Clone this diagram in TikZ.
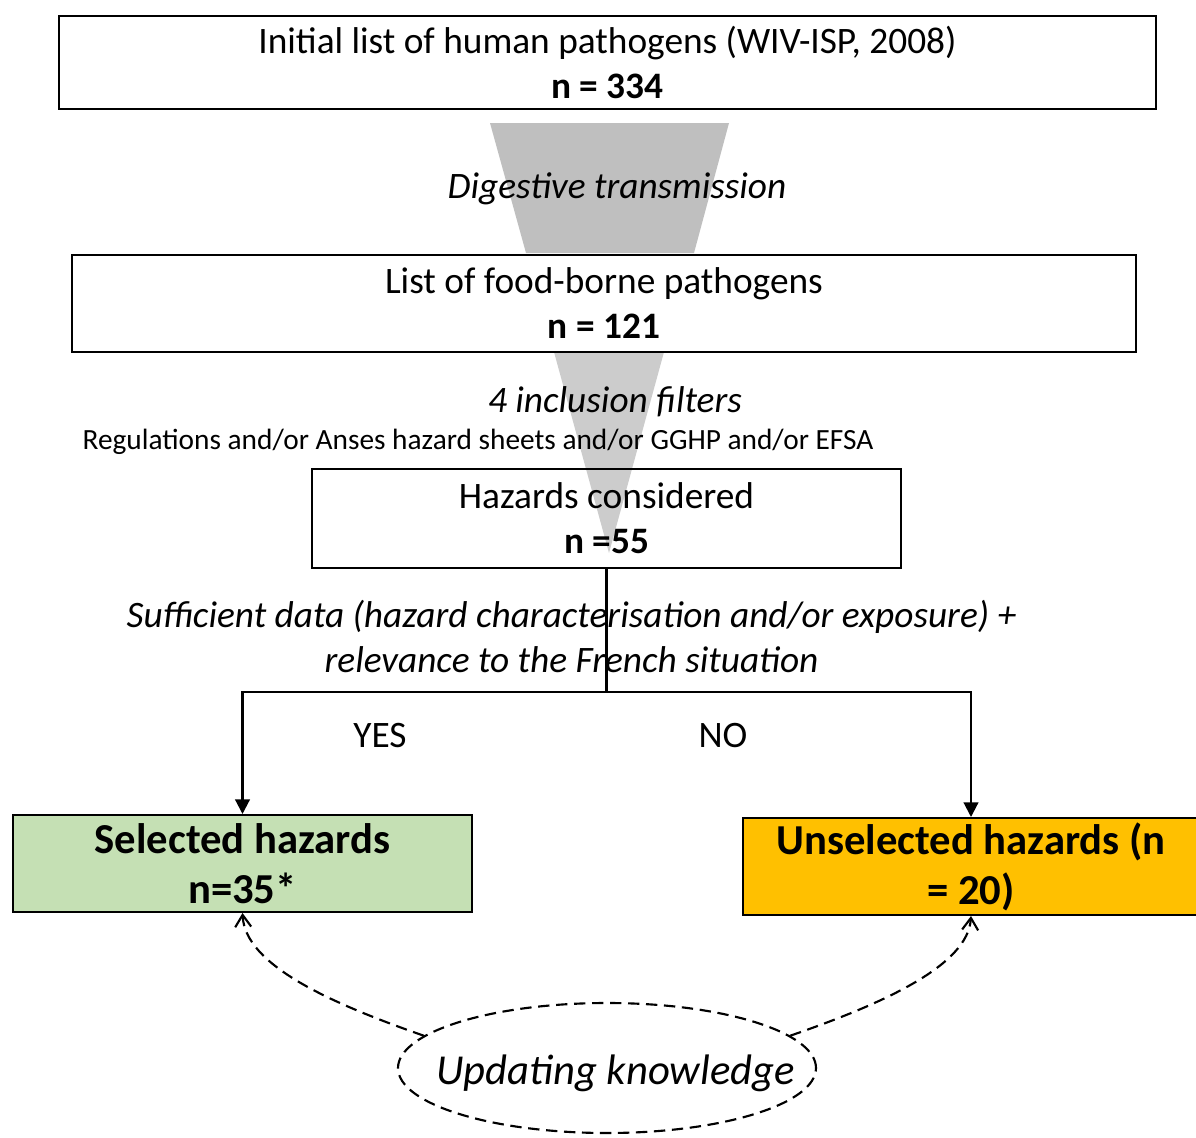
\documentclass[tikz,border=0pt]{standalone}
\usepackage{fontspec}
\setmainfont{Carlito}
\usetikzlibrary{arrows.meta,shapes.geometric}

\definecolor{funnelA}{RGB}{191,191,191}
\definecolor{funnelB}{RGB}{204,204,204}
\definecolor{selgreen}{RGB}{197,224,180}
\definecolor{unselgold}{RGB}{255,192,0}

\tikzset{
  txt/.style={font=\fontsize{28}{33.5}\selectfont, align=center, inner sep=0pt},
  itxt/.style={txt, font=\fontsize{28}{33.5}\selectfont\itshape},
  box/.style={draw, line width=1.5pt, inner sep=0pt, align=center,
              font=\fontsize{28}{33.5}\selectfont},
  outbox/.style={box, font=\fontsize{32}{37.5}\selectfont\bfseries},
  flow/.style={line width=1.6pt, -{Triangle[length=11pt,width=11pt]}},
  dashline/.style={line width=1.6pt, dash pattern=on 8.5pt off 5pt},
  upd/.style={dashline, -{Straight Barb[length=9pt,width=12pt]}}
}

\begin{document}
\begin{tikzpicture}[x=0.75pt,y=-0.75pt]
\clip (0,0) rectangle (1196,1138);
\fill[white] (0,0) rectangle (1196,1138);

% funnels between the stages
\fill[funnelA] (490,123) -- (729,123) -- (694,253) -- (526,253) -- cycle;
\fill[funnelB] (554,352) -- (664,352) -- (609,553) -- cycle;

% stages
\node[box, minimum width={1097*0.75pt}, minimum height={93*0.75pt}] (initial) at (607.5,62.5)
  {Initial list of human pathogens (WIV-ISP, 2008)\\\textbf{n = 334}};
\node[itxt] (digest) at (617,189) {Digestive transmission};
\node[box, minimum width={1064*0.75pt}, minimum height={97*0.75pt}] (food) at (604,303)
  {List of food-borne pathogens\\\textbf{n = 121}};
\node[itxt] (filters) at (615,402) {4 inclusion filters};
\node[txt, font=\fontsize{22}{26}\selectfont] (sources) at (478,442)
  {Regulations and/or Anses hazard sheets and/or GGHP and/or EFSA};
\node[box, minimum width={589*0.75pt}, minimum height={99*0.75pt}] (considered) at (606.5,518)
  {Hazards considered\\\textbf{n =55}};

\node[itxt] (criteria) at (571.5,636.5)
  {Sufficient data (hazard characterisation and/or exposure) +\\relevance to the French situation};

% outcomes
\node[outbox, fill=selgreen, minimum width={459*0.75pt}, minimum height={97*0.75pt}] (sel) at (242.5,863.5)
  {Selected hazards\\n=35*};
\node[outbox, fill=unselgold, minimum width={456*0.75pt}, minimum height={97*0.75pt}] (unsel) at (971,866.5)
  {Unselected hazards (n\\= 20)};

\node[txt] (yes) at (380,736) {YES};
\node[txt] (no) at (723,736) {NO};

% decision branches
\coordinate (fork) at (606.5,692);
\draw[line width=1.6pt] (considered.south) -- (fork);
\draw[flow] (fork) -| (sel.north);
\draw[flow] (fork) -| (unsel.north);

% feedback loop
\node[ellipse, draw, dashline, inner sep=0pt,
      minimum width={418*0.75pt}, minimum height={130*0.75pt}] (upd) at (607,1068) {};
\node[txt, font=\fontsize{32}{36}\selectfont\itshape] (updtxt) at (615.5,1073) {Updating knowledge};
\draw[upd] (upd.170) .. controls (330,1003) and (245,965) .. (sel.south);
\draw[upd] (upd.10) .. controls (885,1003) and (968,965) .. (unsel.south);
\end{tikzpicture}
\end{document}
